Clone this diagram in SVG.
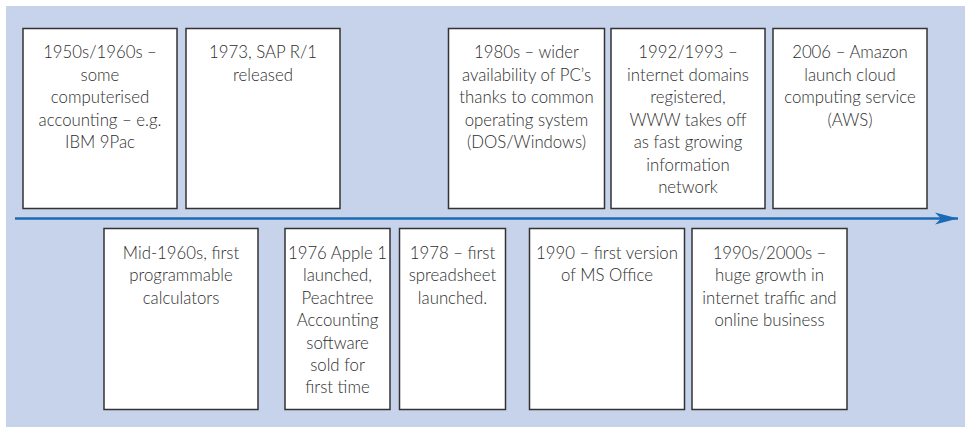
<svg xmlns="http://www.w3.org/2000/svg" width="965" height="427" viewBox="0 0 965 427">
<style>
.box{fill:#ffffff;stroke:#333333;stroke-width:1.5}
.t{font-family:Lato,"Open Sans","Liberation Sans",sans-serif;font-weight:300;font-size:16.8px;fill:#2e2e2e;text-anchor:middle}
</style>
<defs>
<marker id="ah" markerWidth="24" markerHeight="14" refX="23" refY="7" orient="auto" markerUnits="userSpaceOnUse">
<path d="M0,1 L23,7 L0,13 L6,7 Z" fill="#1b6ab5"/>
</marker>
</defs>
<rect x="6" y="6" width="959" height="421" fill="#c6d3ea"/>
<g id="connectors">
<line x1="15" y1="218.5" x2="958" y2="218.5" stroke="#1b6ab5" stroke-width="2.5" marker-end="url(#ah)"/>
</g>
<g id="n1950">
<rect class="box" x="23" y="28.5" width="154" height="180"/>
<text class="t" x="100" y="58"><tspan x="100">1950s/1960s –</tspan><tspan x="100" dy="22.5">some</tspan><tspan x="100" dy="22.5">computerised</tspan><tspan x="100" dy="22.5">accounting – e.g.</tspan><tspan x="100" dy="22.5">IBM 9Pac</tspan></text>
</g>
<g id="n1973">
<rect class="box" x="186" y="28.5" width="154" height="180"/>
<text class="t" x="263" y="58"><tspan x="263">1973, SAP R/1</tspan><tspan x="263" dy="22.5">released</tspan></text>
</g>
<g id="n1980">
<rect class="box" x="448.5" y="28.5" width="156" height="180"/>
<text class="t" x="526.5" y="58"><tspan x="526.5">1980s – wider</tspan><tspan x="526.5" dy="22.5">availability of PC’s</tspan><tspan x="526.5" dy="22.5">thanks to common</tspan><tspan x="526.5" dy="22.5">operating system</tspan><tspan x="526.5" dy="22.5">(DOS/Windows)</tspan></text>
</g>
<g id="n1992">
<rect class="box" x="611" y="28.5" width="154" height="180"/>
<text class="t" x="688" y="58"><tspan x="688">1992/1993 –</tspan><tspan x="688" dy="22.5">internet domains</tspan><tspan x="688" dy="22.5">registered,</tspan><tspan x="688" dy="22.5">WWW takes off</tspan><tspan x="688" dy="22.5">as fast growing</tspan><tspan x="688" dy="22.5">information</tspan><tspan x="688" dy="22.5">network</tspan></text>
</g>
<g id="n2006">
<rect class="box" x="773" y="28.5" width="154" height="180"/>
<text class="t" x="850" y="58"><tspan x="850">2006 – Amazon</tspan><tspan x="850" dy="22.5">launch cloud</tspan><tspan x="850" dy="22.5">computing service</tspan><tspan x="850" dy="22.5">(AWS)</tspan></text>
</g>
<g id="nmid1960">
<rect class="box" x="104" y="228.5" width="154" height="181"/>
<text class="t" x="181" y="259"><tspan x="181">Mid-1960s, first</tspan><tspan x="181" dy="22.4">programmable</tspan><tspan x="181" dy="22.4">calculators</tspan></text>
</g>
<g id="n1976">
<rect class="box" x="285" y="228.5" width="105" height="181"/>
<text class="t" x="337.5" y="259"><tspan x="337.5">1976 Apple 1</tspan><tspan x="337.5" dy="22.4">launched,</tspan><tspan x="337.5" dy="22.4">Peachtree</tspan><tspan x="337.5" dy="22.4">Accounting</tspan><tspan x="337.5" dy="22.4">software</tspan><tspan x="337.5" dy="22.4">sold for</tspan><tspan x="337.5" dy="22.4">first time</tspan></text>
</g>
<g id="n1978">
<rect class="box" x="399.5" y="228.5" width="106" height="181"/>
<text class="t" x="452.5" y="259"><tspan x="452.5">1978 – first</tspan><tspan x="452.5" dy="22.4">spreadsheet</tspan><tspan x="452.5" dy="22.4">launched.</tspan></text>
</g>
<g id="n1990">
<rect class="box" x="529.5" y="228.5" width="155" height="181"/>
<text class="t" x="607" y="259"><tspan x="607">1990 – first version</tspan><tspan x="607" dy="22.4">of MS Office</tspan></text>
</g>
<g id="n1990s">
<rect class="box" x="692" y="228.5" width="155" height="181"/>
<text class="t" x="769.5" y="259"><tspan x="769.5">1990s/2000s –</tspan><tspan x="769.5" dy="22.4">huge growth in</tspan><tspan x="769.5" dy="22.4">internet traffic and</tspan><tspan x="769.5" dy="22.4">online business</tspan></text>
</g>
</svg>
